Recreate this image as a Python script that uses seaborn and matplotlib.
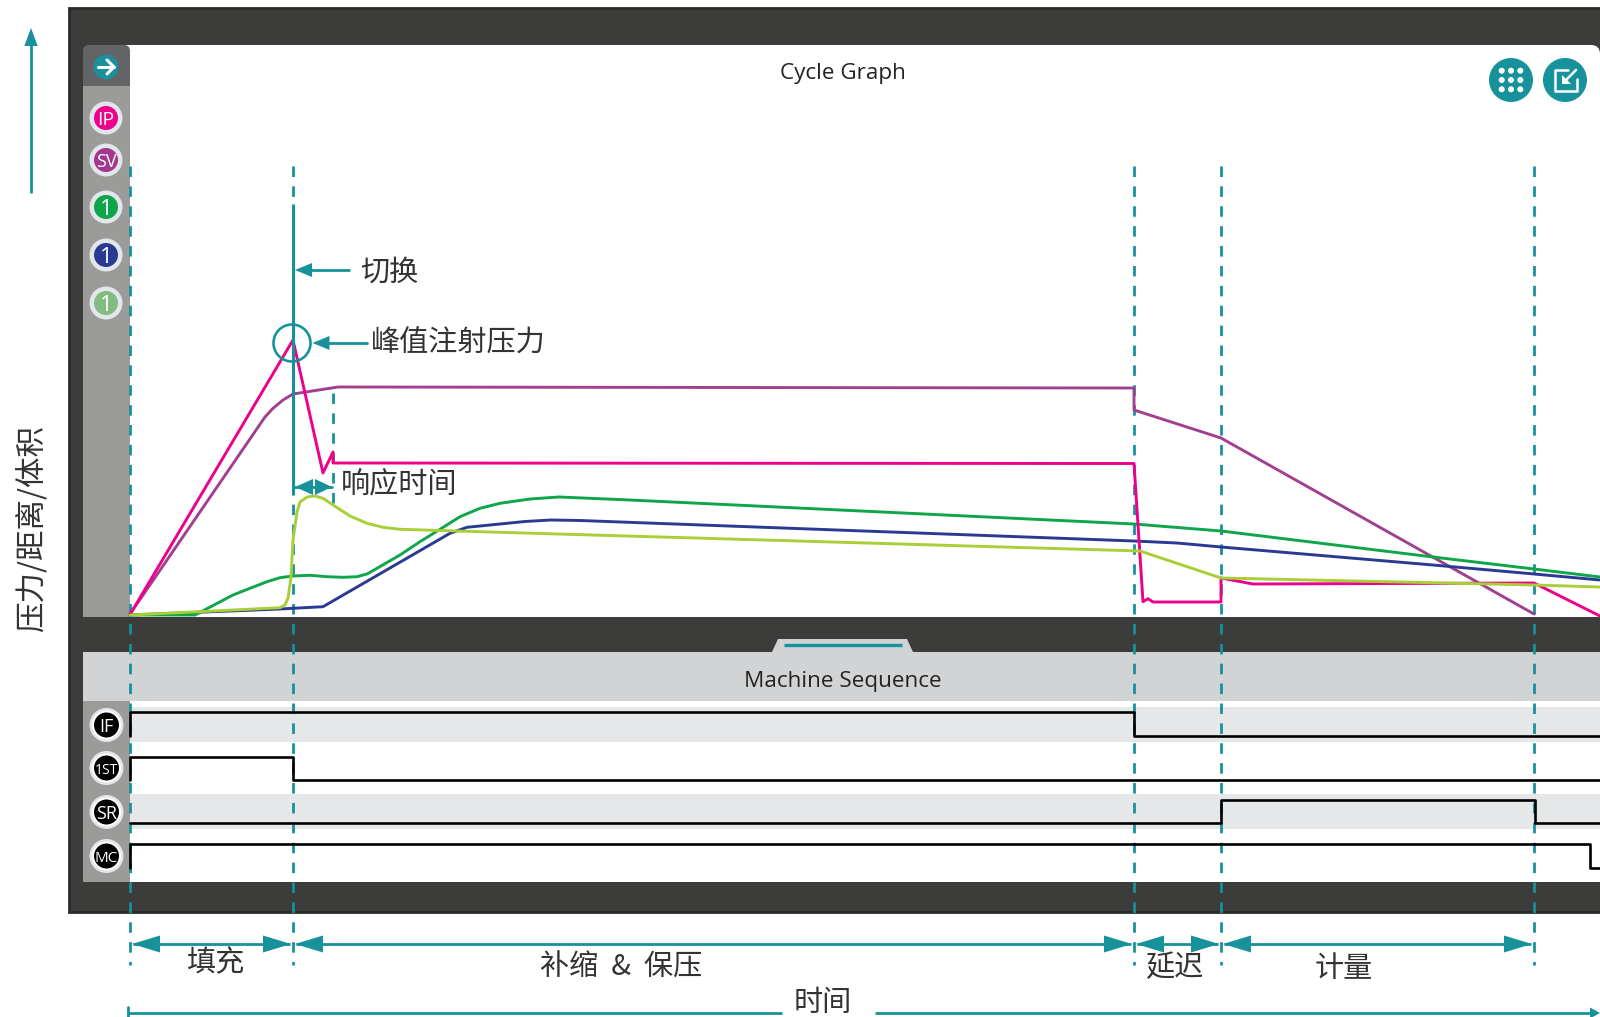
import matplotlib
matplotlib.use('Agg')
import matplotlib.pyplot as plt
import seaborn as sns
from matplotlib.patches import Circle, FancyBboxPatch, Polygon, Rectangle

W, H = 1600, 1017

# phase boundaries on the time axis
events = [0, 163, 1004, 1091, 1404]
response_end = 203

# cycle graph traces (time, value)
ip_t = [0, 163, 193, 203, 203, 1004, 1013, 1018, 1023, 1091, 1091, 1123, 1404, 1470]
ip_v = [2.5, 277, 144, 165, 154, 153.5, 15.3, 18.3, 15, 15, 39, 33, 34, 1]
sv_t = [0, 135, 143, 153, 163, 208, 1004, 1004, 1091, 1404]
sv_v = [3, 200, 208.7, 217, 223, 230, 229, 207, 179, 3]
green_t = [0, 65, 103, 120, 137, 150, 163, 180, 197, 213, 227, 237, 247, 270, 290, 310, 330, 350, 370, 400, 429,
           500, 1004, 1091, 1303, 1404, 1470]
green_v = [2, 2, 22, 28.7, 35.3, 39.3, 41, 41.7, 40.3, 39.7, 40.3, 43, 48.7, 62, 75.3, 87.7, 100.3, 108.7, 113.7,
           118, 120, 117, 93, 86, 60, 48, 40]
navy_t = [0, 150, 193, 320, 337, 370, 395, 421, 450, 1004, 1047, 1091, 1303, 1404, 1470]
navy_v = [2, 8, 10.3, 83.7, 89.7, 93, 95.5, 97, 96.5, 76, 74, 70, 52, 43, 37]
lime_t = [0, 63, 150, 155, 158, 161, 163, 167, 170, 177, 185, 193, 203, 220, 237, 253, 270, 303, 337, 370, 1010,
          1091, 1404, 1470]
lime_v = [2, 5, 9.3, 12, 18.7, 40, 77, 105, 115, 120, 121, 118.7, 112, 101, 93.7, 89.7, 87.7, 86.7, 85.7, 84.7,
          66, 39, 32, 30]

# machine sequence signals (steps)
if_t = [0, 0, 1004, 1470]
if_v = [146, 170, 146, 146]
first_t = [0, 0, 163, 1470]
first_v = [102, 125, 102, 102]
sr_t = [0, 1091, 1405, 1470]
sr_v = [59, 82, 59, 59]
mc_t = [0, 0, 1460, 1470]
mc_v = [14, 38, 14, 14]

badge_labels = ['IP', 'SV', '1', '1', '1']
badge_colors = ['#ec008c', '#a1378f', '#0fa54a', '#2a3a92', '#82bc82']
badge_sizes = [14, 13, 16, 16, 16]
seq_labels = ['IF', '1ST', 'SR', 'MC']
seq_sizes = [13, 10, 13, 11]

TEAL = '#17929b'
DARK = '#3c3d3a'
CJK = ['Noto Sans CJK SC', 'DejaVu Sans']
DASH = (3.78, 3.38)

sns.set_theme(style='white')
plt.rcParams['font.family'] = CJK

fig = plt.figure(figsize=(16, 10.17), dpi=100)


def pixel_axes(zorder):
    a = fig.add_axes([0, 0, 1, 1], zorder=zorder)
    a.set_xlim(0, W)
    a.set_ylim(H, 0)
    a.axis('off')
    a.patch.set_alpha(0)
    return a


def data_axes(x0, y0, x1, y1, zorder):
    a = fig.add_axes([x0 / W, 1 - y1 / H, (x1 - x0) / W, (y1 - y0) / H], zorder=zorder)
    a.set_xlim(0, x1 - x0)
    a.set_ylim(0, y1 - y0)
    a.axis('off')
    a.patch.set_alpha(0)
    return a


bg = pixel_axes(0)
dash_ax = pixel_axes(1)
ax_cycle = data_axes(130, 45, 1600, 617, 2)
ax_seq = data_axes(130, 701, 1600, 882, 2)
top = pixel_axes(3)

# frame and panels
bg.add_patch(Rectangle((68.5, 8), 1540, 903.5, fc=DARK, ec='#2a2b29', lw=2))
bg.add_patch(FancyBboxPatch((83, 45), 1517, 60, boxstyle='round,pad=0,rounding_size=9', fc='white', ec='none'))
bg.add_patch(Rectangle((83, 60), 1517, 557, fc='white', ec='none'))
bg.add_patch(FancyBboxPatch((83, 45), 47, 60, boxstyle='round,pad=0,rounding_size=6', fc='#636466', ec='none'))
bg.add_patch(Rectangle((83, 86), 47, 531, fc='#9b9b99', ec='none'))
bg.add_patch(Rectangle((83, 652), 1517, 49, fc='#d1d3d4', ec='none'))
bg.add_patch(Rectangle((130, 701), 1470, 181, fc='white', ec='none'))
bg.add_patch(Rectangle((83, 701), 47, 181, fc='#9b9b99', ec='none'))
bg.add_patch(Rectangle((130, 707), 1470, 35, fc='#e6e7e8', ec='none'))
bg.add_patch(Rectangle((130, 794), 1470, 35, fc='#e6e7e8', ec='none'))
bg.add_patch(Polygon([(772, 652), (778, 639), (907, 639), (913, 652)], fc='#d1d3d4', ec='none'))
bg.plot([784, 902], [645, 645], color=TEAL, lw=2.4, solid_capstyle='butt')

bg.text(843, 73, 'Cycle Graph', ha='center', va='center', fontsize=16.2, family='Open Sans', color='#222222')
bg.text(843, 682, 'Machine Sequence', ha='center', va='center', fontsize=16.2, family='Open Sans', color='#222222')

# side badges
bg.add_patch(Circle((106, 67), 12.5, fc='#1b8f9a', ec='none'))
bg.plot([98, 114], [67, 67], color='white', lw=2.2)
bg.plot([107, 114, 107], [60, 67, 74], color='white', lw=2.2)
for y, lab, col, fs in zip([118, 160, 207, 255, 303], badge_labels, badge_colors, badge_sizes):
    bg.add_patch(Circle((106, y), 16.5, fc='#e3e6ea', ec='none'))
    bg.add_patch(Circle((106, y), 12, fc=col, ec='none'))
    bg.text(106, y, lab, ha='center', va='center_baseline', color='white', fontsize=fs, family='Open Sans')
for y, lab, fs in zip([725, 768, 812, 856], seq_labels, seq_sizes):
    bg.add_patch(Circle((106.5, y), 17, fc='#e3e6ea', ec='none'))
    bg.add_patch(Circle((106.5, y), 14.5, fc='white', ec='none'))
    bg.add_patch(Circle((106.5, y), 12.5, fc='black', ec='none'))
    bg.text(106.5, y, lab, ha='center', va='center_baseline', color='white', fontsize=fs, family='Open Sans')

# top right buttons
bg.add_patch(Circle((1511, 80), 22, fc='#17929b', ec='none'))
for gx in (1501.7, 1511, 1520.3):
    for gy in (70.7, 80, 89.3):
        bg.add_patch(Circle((gx, gy), 3, fc='white', ec='none'))
bg.add_patch(Circle((1565, 80), 22, fc='#17929b', ec='none'))
bg.plot([1568, 1555, 1555, 1577, 1577], [70, 70, 91, 91, 79], color='white', lw=1.8)
bg.plot([1576, 1564], [70, 82], color='white', lw=1.8)
bg.add_patch(Polygon([(1562, 75), (1562, 84), (1571, 84)], fc='white', ec='none'))

# dashed phase lines
for t in events:
    dash_ax.plot([t + 129.5] * 2, [166, 965], color=TEAL, lw=2, dashes=DASH)
dash_ax.plot([response_end + 130] * 2, [393, 508], color=TEAL, lw=2, dashes=DASH)

# traces
for t, v, col in [(sv_t, sv_v, '#a1408f'), (navy_t, navy_v, '#2a3a92'), (green_t, green_v, '#0fa54a'),
                  (ip_t, ip_v, '#ec008c'), (lime_t, lime_v, '#a8cf38')]:
    sns.lineplot(x=t, y=v, color=col, lw=2.1, sort=False, estimator=None, ax=ax_cycle, clip_on=False)

# sequence signals
for t, v in [(if_t, if_v), (first_t, first_v), (sr_t, sr_v), (mc_t, mc_v)]:
    sns.lineplot(x=t, y=v, color='black', lw=1.9, sort=False, estimator=None, ax=ax_seq,
                 drawstyle='steps-post', clip_on=False)


def head(x, y, d, length=28, half=8.5, a=top):
    a.add_patch(Polygon([(x, y), (x - d * length, y - half), (x - d * length, y + half)], fc=TEAL, ec='none'))


def span(x0, x1, y):
    top.plot([x0 + 3, x1 - 3], [y, y], color=TEAL, lw=2, solid_capstyle='butt')
    head(x0 + 2, y, -1)
    head(x1 - 2, y, 1)


def label(x, y, s, size=21):
    top.text(x, y, s, ha='center', va='center', fontsize=size, color='#333333')


# callouts
top.plot([293, 293], [204, 495], color=TEAL, lw=2.2, solid_capstyle='butt')
top.add_patch(Circle((292, 343), 18.5, fc='none', ec=TEAL, lw=1.9))
top.plot([305, 349], [270, 270], color=TEAL, lw=2)
head(295, 270, -1, 17, 7)
label(389, 272.5, '切换')
top.plot([320, 367], [343, 343], color=TEAL, lw=2)
head(312.5, 343, -1, 17, 7)
label(458, 343.5, '峰值注射压力')
head(295, 487, -1, 18, 8)
head(332, 487, 1, 17, 8)
top.plot([295, 332], [487, 487], color=TEAL, lw=2)
label(399, 484.5, '响应时间')

# phase spans below the frame
span(130, 293, 944)
span(293, 1134, 944)
span(1134, 1221, 944)
span(1221, 1534, 944)
label(215, 963, '填充')
label(621, 968, '补缩  &  保压')
label(1174, 968, '延迟')
label(1344, 969, '计量')

# time arrow
label(823, 1003, '时间')
top.plot([128, 128], [1007, 1017], color=TEAL, lw=2)
top.plot([128, 782], [1013, 1013], color=TEAL, lw=2, solid_capstyle='butt')
top.plot([875, 1592], [1013, 1013], color=TEAL, lw=2, solid_capstyle='butt')
head(1600, 1013, 1, 10, 5.5)

# y axis arrow and label
top.plot([31, 31], [193, 44], color=TEAL, lw=2, solid_capstyle='butt')
top.add_patch(Polygon([(31, 28), (24.3, 46), (37.7, 46)], fc=TEAL, ec='none'))
top.text(32, 529, '压力/距离/体积', rotation=90, ha='center', va='center', fontsize=22, color='#333333')

fig.savefig('out.png', dpi=100)
